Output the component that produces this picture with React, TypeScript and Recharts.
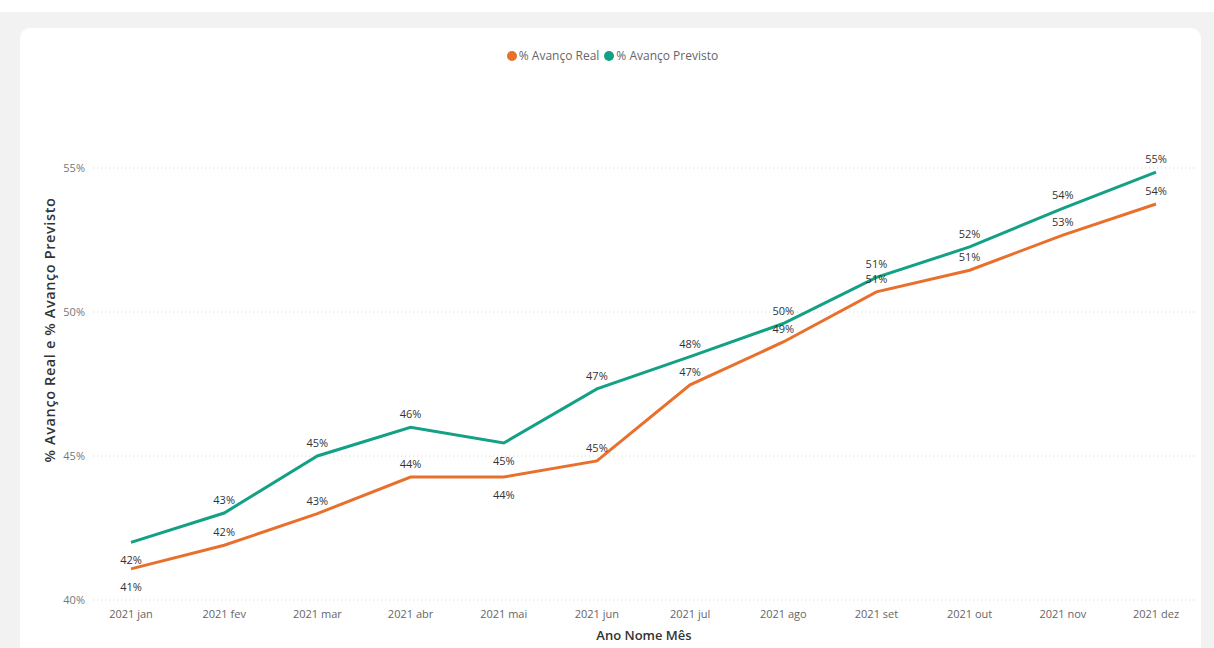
import React from 'react';
import { LineChart, Line, XAxis, YAxis, CartesianGrid, Legend, LabelList } from 'recharts';

const months = ['2021 jan', '2021 fev', '2021 mar', '2021 abr', '2021 mai', '2021 jun', '2021 jul', '2021 ago', '2021 set', '2021 out', '2021 nov', '2021 dez'];
const avancoReal = [41.08, 41.9, 43.0, 44.27, 44.27, 44.83, 47.47, 48.96, 50.7, 51.45, 52.67, 53.75];
const avancoPrevisto = [42.0, 43.02, 45.0, 46.0, 45.45, 47.33, 48.45, 49.6, 51.2, 52.26, 53.6, 54.86];
const yTicks = [40, 45, 50, 55];
const yDomain: [number, number] = [40, 58.75];

const data = months.map((m, i) => ({ month: m, real: avancoReal[i], previsto: avancoPrevisto[i] }));

const ORANGE = '#E8702C';
const TEAL = '#14A085';
const FONT = '"Open Sans", "Noto Sans", sans-serif';

// indices whose labels go beneath the line
const belowIdx = [0, 4];

const makeLabel = () => (props: any) => {
  const { x, y, value, index } = props;
  const below = belowIdx.includes(index);
  return (
    <text
      x={x}
      y={below ? y + 22 : y - 9}
      textAnchor="middle"
      fontSize={11}
      fontFamily={FONT}
      fill="#333"
    >
      {`${Math.round(value)}%`}
    </text>
  );
};

const LegendContent = () => (
  <div style={{ display: 'flex', justifyContent: 'center', paddingLeft: 16, fontFamily: FONT, fontSize: 12, color: '#666', lineHeight: '15px' }}>
    {[
      { name: '% Avanço Real', color: ORANGE },
      { name: '% Avanço Previsto', color: TEAL },
    ].map((it) => (
      <span key={it.name} style={{ display: 'inline-flex', alignItems: 'center', marginRight: 5 }}>
        <span style={{ width: 10, height: 10, borderRadius: '50%', background: it.color, display: 'inline-block', marginRight: 2 }} />
        {it.name}
      </span>
    ))}
  </div>
);

const gridGen = (props: any) => {
  const { offset } = props;
  const top = offset.top;
  const h = offset.height;
  return yTicks.map((t) => top + ((yDomain[1] - t) / (yDomain[1] - yDomain[0])) * h);
};

export default function App() {
  return (
    <div style={{ position: 'absolute', left: 0, top: 0, width: 1214, height: 648, background: '#fff', overflow: 'hidden' }}>
      <div style={{ position: 'absolute', left: 0, top: 12, width: 1214, height: 636, background: '#f2f2f2' }} />
      <div style={{ position: 'absolute', left: 20, top: 28, width: 1181, height: 640, background: '#fff', borderRadius: 10 }} />
      <div style={{ position: 'absolute', left: 0, top: 0 }}>
        <LineChart width={1214} height={648} data={data} margin={{ top: 60, right: 19, bottom: 0, left: 0 }}>
          <CartesianGrid horizontal vertical={false} stroke="#d0d0d0" strokeDasharray="1 3" horizontalCoordinatesGenerator={gridGen} />
          <XAxis
            dataKey="month"
            axisLine={false}
            tickLine={false}
            tickSize={0}
            tickMargin={10}
            height={48}
            interval={0}
            padding={{ left: 38, right: 39 }}
            tick={{ fontSize: 11, fill: '#666', fontFamily: FONT }}
            label={{ value: 'Ano Nome Mês', position: 'insideBottom', offset: 8, style: { fontSize: 13, fontWeight: 600, fill: '#333', fontFamily: FONT } }}
          />
          <YAxis
            width={93}
            domain={yDomain}
            ticks={yTicks}
            axisLine={false}
            tickLine={false}
            tickSize={0}
            tickMargin={8}
            tickFormatter={(v: number) => `${v}%`}
            tick={{ fontSize: 11, fill: '#777', fontFamily: FONT }}
            label={{ value: '% Avanço Real e % Avanço Previsto', angle: -90, position: 'insideLeft', offset: 50, style: { textAnchor: 'middle', fontSize: 14.5, fontWeight: 600, letterSpacing: 0.6, fill: '#333', fontFamily: FONT } }}
          />
          <Legend verticalAlign="middle" align="center" content={<LegendContent />} wrapperStyle={{ top: 48, left: 0, width: 1214 }} />
          <Line type="linear" dataKey="real" name="% Avanço Real" stroke={ORANGE} strokeWidth={3} dot={false} isAnimationActive={false}>
            <LabelList dataKey="real" content={makeLabel()} />
          </Line>
          <Line type="linear" dataKey="previsto" name="% Avanço Previsto" stroke={TEAL} strokeWidth={3} dot={false} isAnimationActive={false}>
            <LabelList dataKey="previsto" content={makeLabel()} />
          </Line>
        </LineChart>
      </div>
    </div>
  );
}
